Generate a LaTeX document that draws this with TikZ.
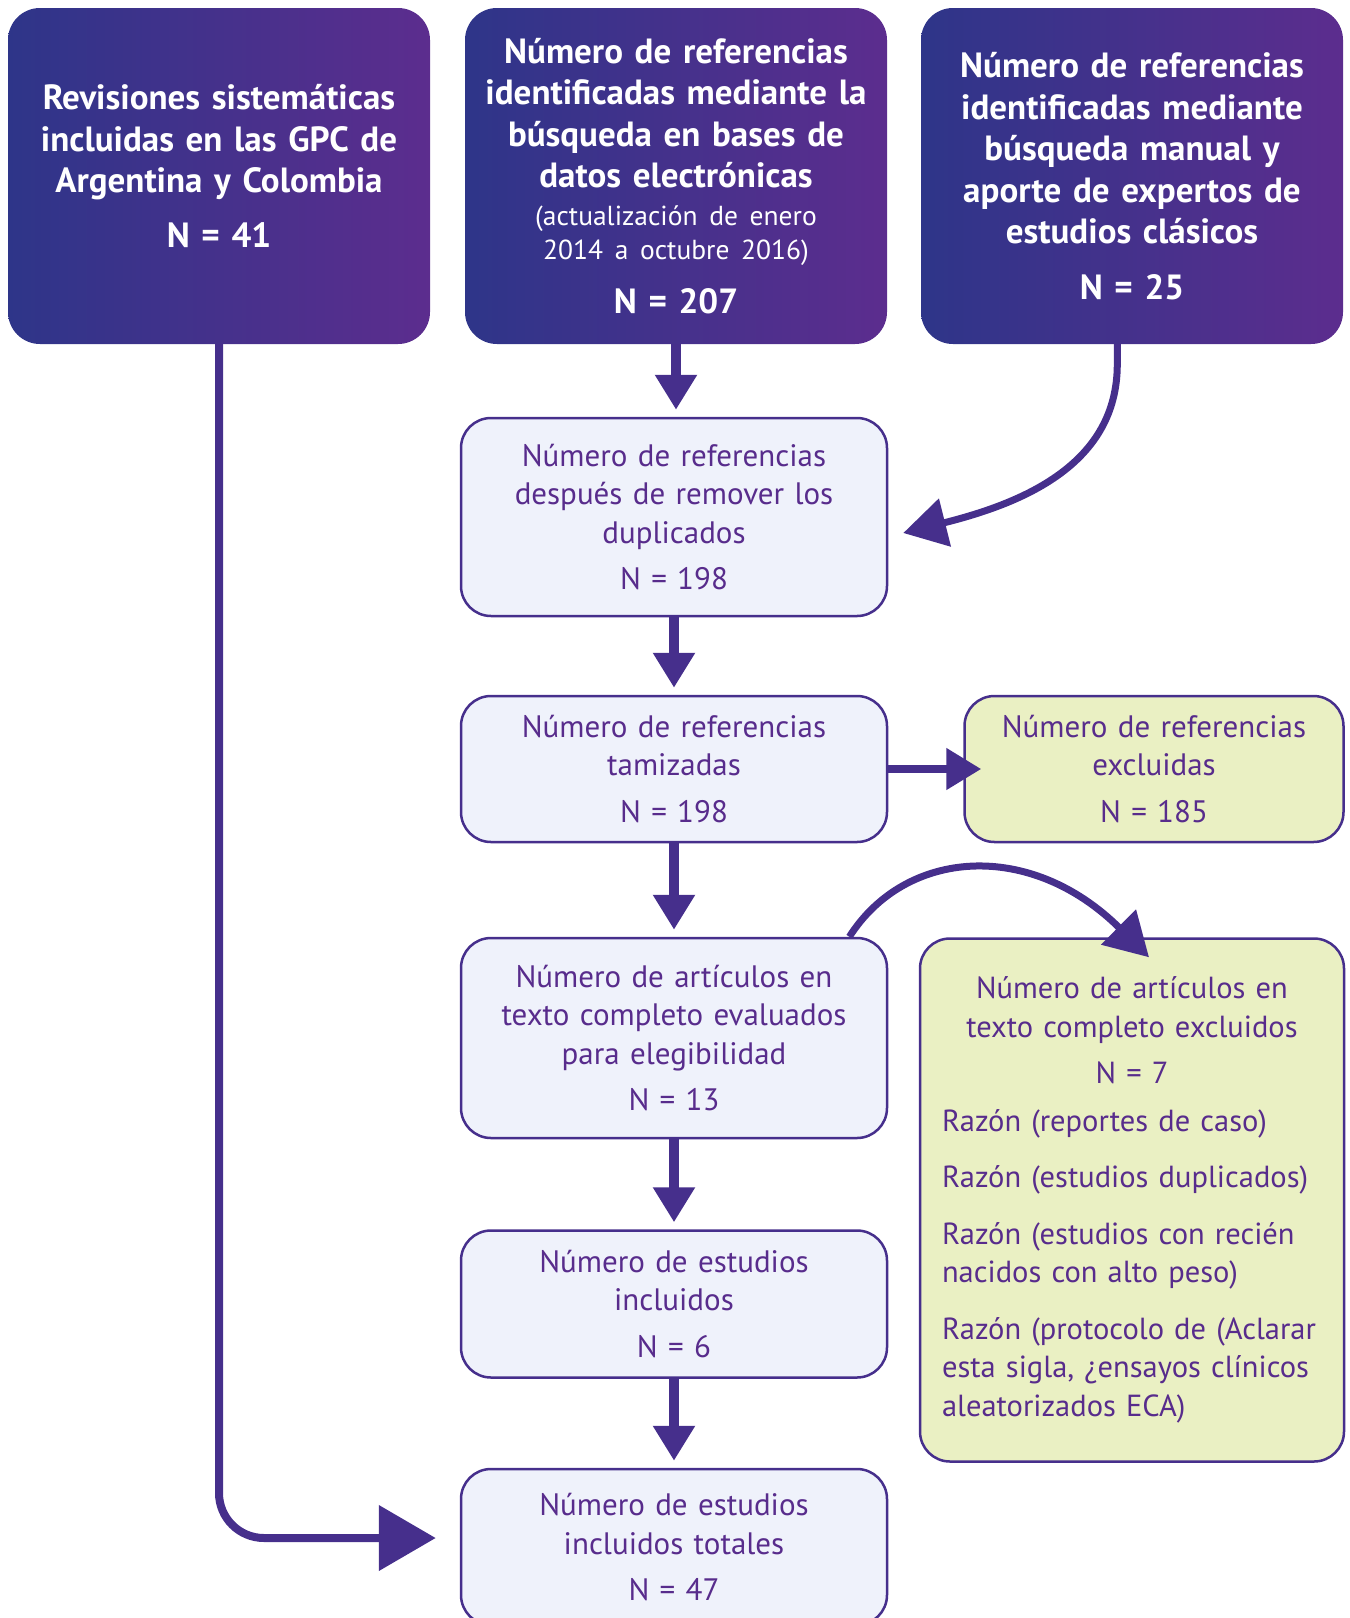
\documentclass[tikz,border=0pt]{standalone}
\usepackage{fontspec}
\setmainfont{PT Sans}[WordSpace=0.85]
\usepackage{xcolor}
\usetikzlibrary{arrows.meta, calc}
\definecolor{azul}{RGB}{46,53,137}
\definecolor{morado}{RGB}{92,45,142}
\definecolor{linea}{RGB}{70,47,140}
\definecolor{texto}{RGB}{88,44,140}
\definecolor{celeste}{RGB}{239,242,251}
\definecolor{verde}{RGB}{234,240,195}

\begin{document}
\begin{tikzpicture}[x=1pt, y=-1pt,
	oscura/.style={rounded corners=32pt, left color=azul, right color=morado, text=white, font=\bfseries\fontsize{35}{41.5}\selectfont, align=center, text width=420pt, minimum width=422pt, minimum height=336pt, inner sep=0pt},
	clara/.style={draw=linea, line width=2.5pt, rounded corners=30pt, fill=celeste, text=texto, font=\fontsize{31}{38.5}\selectfont, align=center, text width=420pt, minimum width=426pt, inner sep=0pt},
	amarilla/.style={clara, fill=verde},
	flecha/.style={draw=linea, line width=10pt, shorten >=7pt, -{Triangle[width=40pt,length=35pt]}},
	curva/.style={draw=linea, line width=7pt, -{Triangle[width=48pt,length=43pt]}}]
		\useasboundingbox (0,0) rectangle (1350,1618);
		\node [oscura] (revisiones) at (219,176) {Revisiones sistemáticas\\ incluidas en las GPC de\\ Argentina y Colombia\\[13pt] N = 41\par\vspace{20pt}};
		\node [oscura] (busqueda) at (676,176) {Número de referencias\\ identificadas mediante la\\ búsqueda en bases de\\ datos electrónicas\par
			\vspace{4pt}{\mdseries\fontsize{27.5}{34}\selectfont (actualización de enero\\ 2014 a octubre 2016)\par}
			\vspace{12pt}N = 207};
		\node [oscura] (manual) at (1132,176) {Número de referencias\\ identificadas mediante\\ búsqueda manual y\\ aporte de expertos de\\ estudios clásicos\\[14pt] N = 25};
		\node [clara, minimum height=198pt] (duplicados) at (674,517) {Número de referencias\\ después de remover los\\ duplicados\\[8pt] N = 198};
		\node [clara, minimum height=146pt] (tamizadas) at (674,769) {Número de referencias\\ tamizadas\\[8pt] N = 198};
		\node [amarilla, minimum width=379pt, text width=370pt, minimum height=146pt] (excluidas) at (1154,769) {Número de referencias\\ excluidas\\[8pt] N = 185};
		\node [clara, minimum height=200pt] (evaluados) at (674,1038) {Número de artículos en\\ texto completo evaluados\\ para elegibilidad\\[8pt] N = 13};
		\node [amarilla, minimum width=424pt, text width=380pt, minimum height=523pt, align=left, font=\fontsize{30.5}{38.5}\selectfont] (excluidos) at (1132,1200) {{\centering Número de artículos en\\ texto completo excluidos\\[8pt] N = 7\par}
			\vspace{9pt}Razón (reportes de caso)\par
			\vspace{18pt}Razón (estudios duplicados)\par
			\vspace{18pt}Razón (estudios con recién\\ nacidos con alto peso)\par
			\vspace{18pt}Razón (protocolo de (Aclarar\\ esta sigla, ¿ensayos clínicos\\ aleatorizados ECA)};
		\node [clara, minimum height=147pt] (incluidos) at (674,1304) {Número de estudios\\ incluidos\\[8pt] N = 6};
		\node [clara, minimum height=156pt] (totales) at (674,1547) {Número de estudios\\ incluidos totales\\[8pt] N = 47};

		\draw [flecha] (busqueda.south) -- (busqueda.south |- duplicados.north);
		\draw [flecha] (duplicados.south) -- (tamizadas.north);
		\draw [flecha] (tamizadas.south) -- (evaluados.north);
		\draw [flecha] (evaluados.south) -- (incluidos.north);
		\draw [flecha] (incluidos.south) -- (totales.north);
		\draw [flecha, line width=8pt, shorten >=-18pt] (tamizadas.east) -- (excluidas.west);
		\draw [curva] (manual.265) -- ++(0,20) .. controls +(0,100) and +(120,-30) .. ($(duplicados.east)+(15,16)$);
		\draw [curva] (evaluados.30.5) .. controls +(56,-88) and +(-119,-118) .. ($(excluidos.north)+(17,20)$);
		\draw [draw=linea, line width=8pt, rounded corners=45pt, -{Triangle[width=64pt,length=57pt]}] (revisiones.south) |- ($(totales.west)+(-24,-9)$);
	\end{tikzpicture}
\end{document}
